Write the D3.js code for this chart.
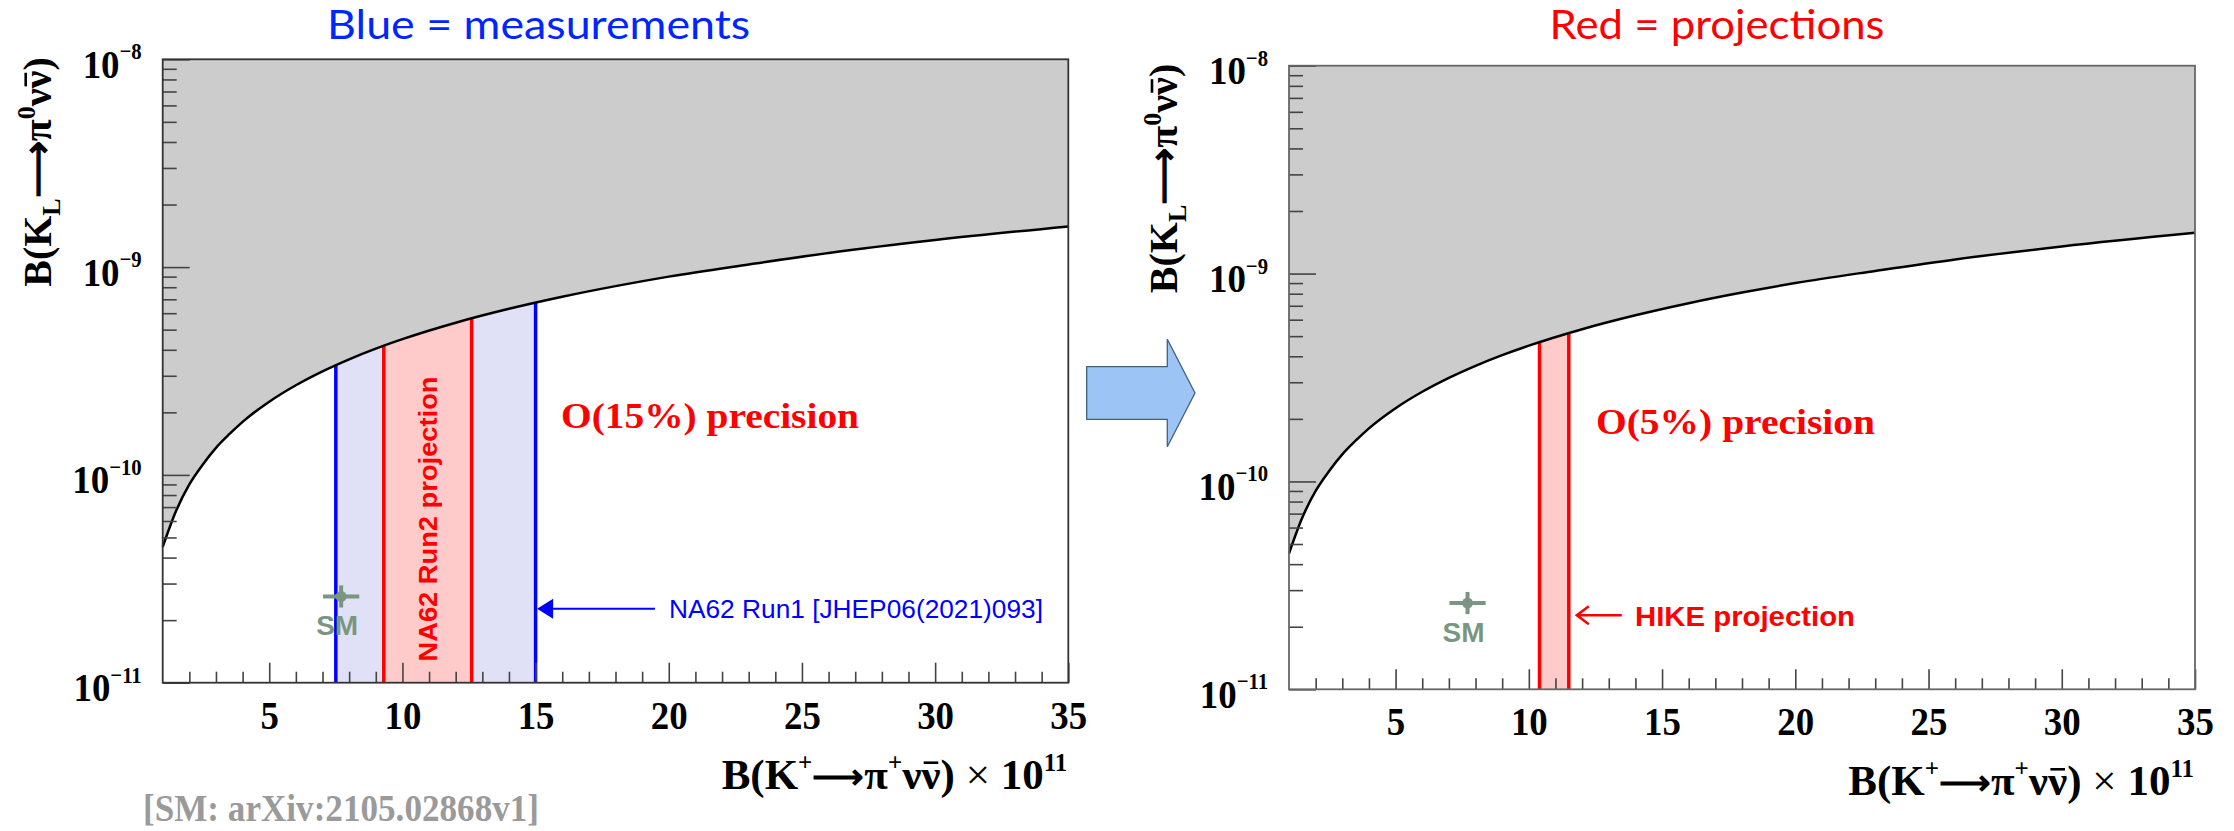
<!DOCTYPE html>
<html><head><meta charset="utf-8">
<script src="https://cdn.jsdelivr.net/npm/d3@7"></script>
<style>body{margin:0;background:#fff}svg{display:block}</style>
</head><body>
<svg id="c" width="2234" height="831"></svg>
<script>
// ---------------- DATA ----------------
const xDomain = [1, 35];
const yDomain = [1e-11, 1e-8];
const xMajorTicks = [5, 10, 15, 20, 25, 30, 35];
const yMajorTicks = [1e-11, 1e-10, 1e-9, 1e-8];
const yTickExponents = ["\u221211", "\u221210", "\u22129", "\u22128"];
// Grossman–Nir bound (x in units of 1e-11)
const boundX = [1, 1.5, 2, 2.5, 3, 3.5, 4, 5, 6, 7, 8, 9, 10, 12, 14, 16, 18, 20, 23, 26, 30, 35];
const boundY = [4.5e-11, 6.7e-11, 9.0e-11, 1.12e-10, 1.35e-10, 1.57e-10, 1.8e-10, 2.25e-10, 2.7e-10,
                3.15e-10, 3.6e-10, 4.05e-10, 4.5e-10, 5.4e-10, 6.3e-10, 7.2e-10, 8.1e-10, 9.0e-10,
                1.03e-9, 1.17e-9, 1.35e-9, 1.57e-9];
// Bands [low, high] in units of 1e-11
const na62Run1 = [7.5, 15.0];
const na62Run2 = [9.3, 12.6];
const hikeProj = [10.4, 11.5];
// SM point
const smX = 7.7, smXErr = 0.68;
const smY = 2.6e-11, smYLo = 2.3e-11, smYHi = 2.94e-11;
// Annotation arrow height
const arrowY = 2.27e-11;

// ---------------- DRAW ----------------
const svg = d3.select("#c");
const defs = svg.append("defs");
const SERIF = "'Liberation Serif','Times New Roman',serif";
const SANS = "'Liberation Sans',Arial,sans-serif";
const BLUE = "#0000ff", RED = "#ff0000", SMC = "#7a9682";

// draws a bar over the character at index idx of text node t (inside group g)
function barOver(g, t, idx, lift) {
  const e = t.node().getExtentOfChar(idx);
  g.append("line").attr("x1", e.x + e.width * 0.12).attr("x2", e.x + e.width * 0.88)
    .attr("y1", -lift).attr("y2", -lift).attr("stroke", "#000").attr("stroke-width", 2.6);
}

function panel(id, frame, opts) {
  const x = d3.scaleLinear().domain(xDomain).range([frame.x0, frame.x1]);
  const y = d3.scaleLog().domain(yDomain).range([frame.y1, frame.y0]);
  const g = svg.append("g");
  const pts = boundX.map((v, i) => [v, boundY[i]]);

  const below = d3.area().x(d => x(d[0])).y0(frame.y1).y1(d => y(d[1])).curve(d3.curveMonotoneX);
  const above = d3.area().x(d => x(d[0])).y0(frame.y0).y1(d => y(d[1])).curve(d3.curveMonotoneX);
  const line = d3.line().x(d => x(d[0])).y(d => y(d[1])).curve(d3.curveMonotoneX);

  defs.append("clipPath").attr("id", id + "-below").append("path").attr("d", below(pts));

  g.append("path").attr("d", above(pts)).attr("fill", "#cccccc");

  // bands
  const bandG = g.append("g").attr("clip-path", `url(#${id}-below)`);
  opts.bands.forEach(b => {
    bandG.append("rect").attr("x", x(b.r[0])).attr("width", x(b.r[1]) - x(b.r[0]))
      .attr("y", frame.y0).attr("height", frame.y1 - frame.y0).attr("fill", b.fill);
  });
  opts.bands.forEach(b => {
    b.r.forEach(v => {
      bandG.append("line").attr("x1", x(v)).attr("x2", x(v)).attr("y1", frame.y0).attr("y2", frame.y1)
        .attr("stroke", b.stroke).attr("stroke-width", 3.5);
    });
  });

  // bound curve
  g.append("path").attr("d", line(pts)).attr("fill", "none").attr("stroke", "#000").attr("stroke-width", 2.5);

  // SM point
  const sm = g.append("g");
  sm.append("line").attr("x1", x(smX - smXErr)).attr("x2", x(smX + smXErr)).attr("y1", y(smY)).attr("y2", y(smY))
    .attr("stroke", SMC).attr("stroke-width", 4);
  sm.append("line").attr("x1", x(smX)).attr("x2", x(smX)).attr("y1", y(smYLo)).attr("y2", y(smYHi))
    .attr("stroke", SMC).attr("stroke-width", 4);
  sm.append("circle").attr("cx", x(smX)).attr("cy", y(smY)).attr("r", 5.5).attr("fill", SMC);
  sm.append("text").attr("x", x(smX) - 4).attr("y", y(smY) + 39).attr("text-anchor", "middle")
    .attr("font-family", SANS).attr("font-weight", "bold").attr("font-size", 28).attr("fill", SMC).text("SM");

  // axes
  const xMinor = d3.range(2, 35).filter(v => v % 5 !== 0);
  const ax1 = g.append("g").attr("transform", `translate(0,${frame.y1})`)
    .call(d3.axisBottom(x).tickValues(xMinor).tickSize(-11).tickFormat(""));
  const ax2 = g.append("g").attr("transform", `translate(0,${frame.y1})`)
    .call(d3.axisBottom(x).tickValues(xMajorTicks).tickSize(-20).tickFormat(d3.format("d")));
  ax2.selectAll("text").attr("y", 0).attr("dy", 0)
    .attr("transform", "translate(0,46) scale(0.9,1)")
    .attr("font-family", SERIF).attr("font-weight", "bold").attr("font-size", 41).attr("fill", "#000");
  const yMinor = y.ticks().filter(v => !yMajorTicks.some(m => Math.abs(m - v) / m < 1e-6));
  const ay1 = g.append("g").attr("transform", `translate(${frame.x0},0)`)
    .call(d3.axisLeft(y).tickValues(yMinor).tickSize(-14).tickFormat(""));
  const ay2 = g.append("g").attr("transform", `translate(${frame.x0},0)`)
    .call(d3.axisLeft(y).tickValues(yMajorTicks).tickSize(-27).tickFormat(""));
  [ax1, ax2, ay1, ay2].forEach(a => {
    a.select(".domain").remove();
    a.selectAll("line").attr("stroke", "#444").attr("stroke-width", 1.6);
  });
  // y tick labels as 10^n
  yMajorTicks.forEach((v, i) => {
    const t = g.append("text").attr("transform", `translate(${frame.x0 - 21},${y(v) + 18.5}) scale(0.9,1)`)
      .attr("text-anchor", "end").attr("font-family", SERIF).attr("font-weight", "bold").attr("font-size", 41);
    t.append("tspan").text("10");
    t.append("tspan").attr("dy", -18.5).attr("font-size", 23).text(yTickExponents[i]);
  });

  // frame
  g.append("rect").attr("x", frame.x0).attr("y", frame.y0).attr("width", frame.x1 - frame.x0)
    .attr("height", frame.y1 - frame.y0).attr("fill", "none").attr("stroke", opts.frameColor).attr("stroke-width", 1.8);

  // y title
  const ytg = g.append("g").attr("transform", `translate(${frame.x0 - 112},${frame.y0 - 2}) rotate(-90)`);
  const yt = ytg.append("text").attr("text-anchor", "end").attr("font-family", SERIF).attr("font-weight", "bold").attr("font-size", 40);
  yt.append("tspan").text("B(K");
  yt.append("tspan").attr("dy", 9).attr("font-size", 26).text("L");
  yt.append("tspan").attr("dy", -9).text("\u27F6\u03C0");
  yt.append("tspan").attr("dy", -16).attr("font-size", 26).text("0");
  yt.append("tspan").attr("dy", 16).text("\u03BD\u03BD)");
  barOver(ytg, yt, yt.node().textContent.indexOf("\u03BD\u03BD") + 1, 25);

  // x title
  const xtg = g.append("g").attr("transform", `translate(${frame.x1 - 1},${frame.y1 + 106})`);
  const xt = xtg.append("text").attr("text-anchor", "end").attr("font-family", SERIF).attr("font-weight", "bold").attr("font-size", 43);
  xt.append("tspan").text("B(K");
  xt.append("tspan").attr("dy", -18).attr("font-size", 25).text("+");
  xt.append("tspan").attr("dy", 18).attr("font-size", 36).text("\u27F6");
  xt.append("tspan").text("\u03C0");
  xt.append("tspan").attr("dy", -18).attr("font-size", 25).text("+");
  xt.append("tspan").attr("dy", 18).text("\u03BD\u03BD) ");
  xt.append("tspan").attr("font-weight", "normal").text("\u00D7 ");
  xt.append("tspan").text("10");
  xt.append("tspan").attr("dy", -18).attr("font-size", 25).text("11");
  barOver(xtg, xt, xt.node().textContent.indexOf("\u03BD\u03BD") + 1, 26);

  opts.extra(g, x, y, frame);
}

// Left panel
panel("L", { x0: 162.7, x1: 1068.3, y0: 59.3, y1: 682.7 }, {
  frameColor: "#333",
  bands: [
    { r: na62Run1, fill: "#e0e0f7", stroke: BLUE },
    { r: na62Run2, fill: "#ffcaca", stroke: RED }
  ],
  extra: (g, x, y, f) => {
    g.append("text").attr("transform", `translate(${(x(na62Run2[0]) + x(na62Run2[1])) / 2 + 9},${519}) rotate(-90)`)
      .attr("text-anchor", "middle").attr("font-family", SANS).attr("font-weight", "bold").attr("font-size", 25)
      .attr("fill", RED).attr("textLength", 285).attr("lengthAdjust", "spacingAndGlyphs").text("NA62 Run2 projection");
    g.append("text").attr("x", 561).attr("y", 428).attr("font-family", SERIF).attr("font-weight", "bold")
      .attr("font-size", 35).attr("fill", RED).attr("textLength", 298).attr("lengthAdjust", "spacingAndGlyphs")
      .text("O(15%) precision");
    const ay = y(arrowY);
    const tip = x(na62Run1[1]) + 1.5;
    g.append("line").attr("x1", tip + 12).attr("x2", 655).attr("y1", ay).attr("y2", ay).attr("stroke", BLUE).attr("stroke-width", 2);
    g.append("path").attr("d", `M${tip},${ay}L${tip + 16},${ay - 10}L${tip + 16},${ay + 10}Z`).attr("fill", BLUE);
    g.append("text").attr("x", 669).attr("y", ay + 9).attr("font-family", SANS).attr("font-size", 26)
      .attr("fill", BLUE).attr("textLength", 374).attr("lengthAdjust", "spacingAndGlyphs")
      .text("NA62 Run1 [JHEP06(2021)093]");
  }
});

// Right panel
panel("R", { x0: 1289, x1: 2195, y0: 65.7, y1: 689.3 }, {
  frameColor: "#666",
  bands: [
    { r: hikeProj, fill: "#ffcaca", stroke: RED }
  ],
  extra: (g, x, y, f) => {
    g.append("text").attr("x", 1596).attr("y", 434).attr("font-family", SERIF).attr("font-weight", "bold")
      .attr("font-size", 35).attr("fill", RED).attr("textLength", 279).attr("lengthAdjust", "spacingAndGlyphs")
      .text("O(5%) precision");
    const ay = y(arrowY);
    const tip = x(hikeProj[1]) + 8;
    g.append("path").attr("d", `M${tip + 45},${ay}L${tip},${ay}M${tip + 12},${ay - 9}L${tip},${ay}L${tip + 12},${ay + 9}`)
      .attr("fill", "none").attr("stroke", RED).attr("stroke-width", 2.5);
    g.append("text").attr("x", 1635).attr("y", ay + 11).attr("font-family", SANS).attr("font-weight", "bold")
      .attr("font-size", 27).attr("fill", RED).attr("textLength", 220).attr("lengthAdjust", "spacingAndGlyphs")
      .text("HIKE projection");
  }
});

// Titles
svg.append("text").attr("x", 538.6).attr("y", 39).attr("text-anchor", "middle").attr("font-family", "Lato, 'Open Sans', sans-serif")
  .attr("font-size", 41).attr("fill", "#0026ff").attr("textLength", 423).attr("lengthAdjust", "spacingAndGlyphs")
  .text("Blue = measurements");
svg.append("text").attr("x", 1717).attr("y", 39).attr("text-anchor", "middle").attr("font-family", "Lato, 'Open Sans', sans-serif")
  .attr("font-size", 41).attr("fill", "#ff0000").attr("textLength", 335).attr("lengthAdjust", "spacingAndGlyphs")
  .text("Red = projections");

// citation
svg.append("text").attr("x", 143).attr("y", 821).attr("font-family", SERIF).attr("font-weight", "bold")
  .attr("font-size", 38).attr("fill", "#9a9a9a").attr("textLength", 396).attr("lengthAdjust", "spacingAndGlyphs")
  .text("[SM: arXiv:2105.02868v1]");

// big arrow between panels
svg.append("path")
  .attr("d", "M1086.7,366.7L1167.3,366.7L1167.3,339.3L1195,393L1167.3,446.7L1167.3,419.3L1086.7,419.3Z")
  .attr("fill", "#9cc4f4").attr("stroke", "#41607f").attr("stroke-width", 1.3);
</script>
</body></html>
